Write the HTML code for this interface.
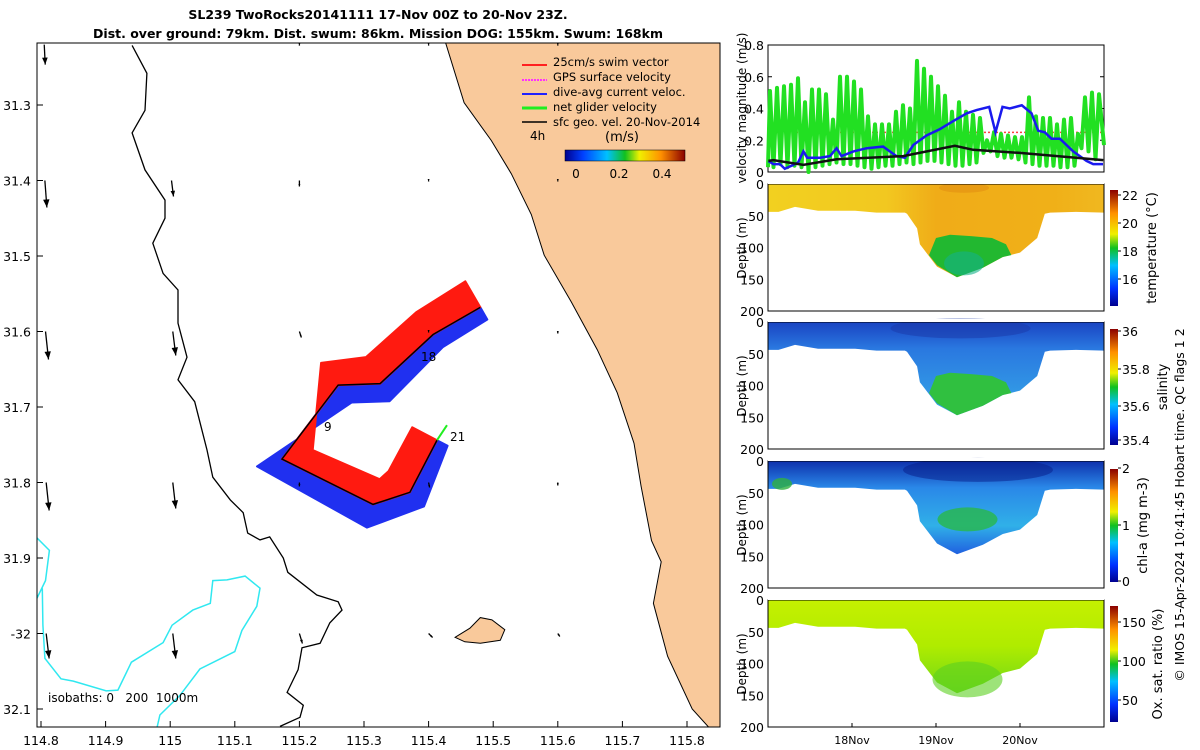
<!DOCTYPE html>
<html><head><meta charset="utf-8"><style>
html,body{margin:0;background:#fff;overflow:hidden;width:1200px;height:750px;}
svg{display:block;font-family:"DejaVu Sans","Liberation Sans",sans-serif;}
</style></head><body>
<svg id="fig" width="1200" height="750" viewBox="0 0 1200 750">
<defs>
<linearGradient id="jetV" x1="0" y1="1" x2="0" y2="0"><stop offset="0" stop-color="#00008f"/><stop offset="0.15" stop-color="#0030ff"/><stop offset="0.35" stop-color="#00c0ff"/><stop offset="0.5" stop-color="#10c020"/><stop offset="0.62" stop-color="#f0f000"/><stop offset="0.8" stop-color="#ff9000"/><stop offset="1" stop-color="#8a0000"/></linearGradient>
<linearGradient id="jetH" x1="0" y1="0" x2="1" y2="0"><stop offset="0" stop-color="#00008f"/><stop offset="0.15" stop-color="#0040ff"/><stop offset="0.35" stop-color="#00c0ff"/><stop offset="0.5" stop-color="#10c020"/><stop offset="0.62" stop-color="#f0f000"/><stop offset="0.8" stop-color="#ff9000"/><stop offset="1" stop-color="#8a0000"/></linearGradient>
<linearGradient id="gT" x1="0" y1="0" x2="1" y2="0"><stop offset="0" stop-color="#f2d020"/><stop offset="0.35" stop-color="#f2c820"/><stop offset="0.5" stop-color="#f0ac18"/><stop offset="0.85" stop-color="#f0b018"/><stop offset="1" stop-color="#f0b820"/></linearGradient>
<linearGradient id="gS" x1="0" y1="0" x2="0" y2="1"><stop offset="0" stop-color="#1840c0"/><stop offset="0.3" stop-color="#2a78e0"/><stop offset="1" stop-color="#35a8e8"/></linearGradient>
<linearGradient id="gC" x1="0" y1="0" x2="0" y2="1"><stop offset="0" stop-color="#0c2aa8"/><stop offset="0.3" stop-color="#2a88e8"/><stop offset="0.7" stop-color="#30b0e8"/><stop offset="1" stop-color="#2060e0"/></linearGradient>
<linearGradient id="gO" x1="0" y1="0" x2="0" y2="1"><stop offset="0" stop-color="#c6f000"/><stop offset="0.5" stop-color="#b0ec00"/><stop offset="1" stop-color="#70d818"/></linearGradient>
<clipPath id="mapClip"><rect x="37" y="43" width="683" height="684"/></clipPath>
</defs>

<text x="378" y="19" text-anchor="middle" font-size="12.5" font-weight="bold">SL239 TwoRocks20141111 17-Nov 00Z to 20-Nov 23Z.</text>
<text x="378" y="38" text-anchor="middle" font-size="12.5" font-weight="bold">Dist. over ground: 79km. Dist. swum: 86km. Mission DOG: 155km. Swum: 168km</text>

<g id="map" clip-path="url(#mapClip)"></g>
<rect x="37" y="43" width="683" height="684" fill="none" stroke="#000" stroke-width="1"/>
<g id="mapAxes"></g>

<g id="legend">
<line x1="522" y1="65" x2="547" y2="65" stroke="#ff2020" stroke-width="2"/><text x="553" y="66" font-size="11.5">25cm/s swim vector</text>
<line x1="522" y1="80" x2="547" y2="80" stroke="#ff30ff" stroke-width="2" stroke-dasharray="2,1"/><text x="553" y="81" font-size="11.5">GPS surface velocity</text>
<line x1="522" y1="94" x2="547" y2="94" stroke="#2020ff" stroke-width="2"/><text x="553" y="96" font-size="11.5">dive-avg current veloc.</text>
<line x1="522" y1="108" x2="547" y2="108" stroke="#20ee20" stroke-width="3"/><text x="553" y="111" font-size="11.5">net glider velocity</text>
<line x1="522" y1="122" x2="547" y2="122" stroke="#000" stroke-width="1.5"/><text x="553" y="126" font-size="11.5">sfc geo. vel. 20-Nov-2014</text>
<text x="530" y="140" font-size="12">4h</text>
<text x="605" y="141" font-size="13">(m/s)</text>
<rect x="565" y="150" width="120" height="11" fill="url(#jetH)" stroke="#000" stroke-width="0.5"/>
<text x="576" y="178" font-size="12" text-anchor="middle">0</text><text x="619" y="178" font-size="12" text-anchor="middle">0.2</text><text x="662" y="178" font-size="12" text-anchor="middle">0.4</text>
</g>

<g id="vel"></g>
<g id="sections"></g>

<text transform="translate(1184,505) rotate(-90)" text-anchor="middle" font-size="12.5">© IMOS 15-Apr-2024 10:41:45 Hobart time. QC flags 1  2</text>
</svg>
<script>
const NS="http://www.w3.org/2000/svg";
function mk(parent,tag,attrs,text){const e=document.createElementNS(NS,tag);for(const k in attrs)e.setAttribute(k,attrs[k]);if(text!==undefined)e.textContent=text;parent.appendChild(e);return e;}

// ---------- MAP DATA ----------
const lonTicks=[114.8,114.9,115,115.1,115.2,115.3,115.4,115.5,115.6,115.7,115.8];
const latTicks=[31.3,31.4,31.5,31.6,31.7,31.8,31.9,32,32.1];
const latTickLabels=["31.3","31.4","31.5","31.6","31.7","31.8","31.9","-32","32.1"];
const coastLon=[115.42,115.455,115.497,115.528,115.559,115.579,115.621,115.661,115.692,115.718,115.729,115.745,115.76,115.748,115.77,115.808,115.84,116.0,116.0];
const coastLat=[31.2,31.297,31.347,31.391,31.445,31.499,31.561,31.624,31.681,31.748,31.805,31.877,31.905,31.96,32.03,32.1,32.13,32.13,31.2];
const iso200Lon=[114.941,114.964,114.961,114.941,114.961,114.992,114.992,114.973,114.989,115.012,115.012,115.026,115.012,115.038,115.057,115.066,115.093,115.113,115.120,115.139,115.154,115.175,115.182,115.227,115.260,115.266,115.247,115.232,115.204,115.198,115.181,115.206,115.201,115.170];
const iso200Lat=[31.221,31.258,31.307,31.337,31.386,31.426,31.450,31.483,31.523,31.545,31.589,31.634,31.664,31.693,31.757,31.793,31.823,31.840,31.867,31.876,31.872,31.900,31.919,31.949,31.958,31.969,31.986,32.013,32.019,32.048,32.078,32.095,32.111,32.123];
const iso1000aLon=[114.79,114.813,114.807,114.79];
const iso1000aLat=[31.87,31.89,31.93,31.96];
const iso1000bLon=[114.802,114.803,114.806,114.831,114.85,114.901,114.919,114.94,114.989,115.003,115.035,115.062,115.066,115.088,115.116,115.139,115.134,115.111,115.1,115.046,115.015,114.984,114.979];
const iso1000bLat=[31.94,31.989,32.033,32.06,32.063,32.076,32.075,32.038,32.012,31.989,31.969,31.96,31.93,31.929,31.924,31.94,31.964,31.996,32.024,32.047,32.082,32.108,32.127];
const islandLon=[115.441,115.464,115.480,115.498,115.518,115.511,115.480,115.456];
const islandLat=[32.005,31.993,31.979,31.982,31.995,32.009,32.013,32.011];
const trackLon=[115.48,115.407,115.325,115.26,115.173,115.314,115.371,115.413];
const trackLat=[31.568,31.604,31.669,31.671,31.769,31.829,31.813,31.744];
const swimWidth=[30,28,30,28,32,26,30,28];
const currWidth=[14,16,20,22,26,24,20,12];
const fieldLon=[114.805,114.806,114.807,114.808,114.808,115.0,115.002,115.004,115.004,115.004,115.2,115.2,115.2,115.2,115.2,115.4,115.4,115.4,115.4,115.4,115.6,115.6,115.6,115.6,115.6];
const fieldLat=[31.22,31.4,31.6,31.8,32.0,31.22,31.4,31.6,31.8,32.0,31.22,31.4,31.6,31.8,32.0,31.22,31.4,31.6,31.8,32.0,31.22,31.4,31.6,31.8,32.0];
const fieldU=[0.01,0.02,0.03,0.03,0.03,0,0.02,0.03,0.03,0.03,0,0,0.02,0,0.03,0,0,0,0.01,0.04,0,0,0,0,0.02];
const fieldV=[0.2,0.27,0.28,0.28,0.25,0,0.16,0.24,0.26,0.25,0.01,0.06,0.06,0.04,0.1,0.01,0.01,0.01,0.05,0.04,0.01,0.01,0.02,0.03,0.03];

const MX=lon=>41+(lon-114.8)*646;
const MY=lat=>105+(lat-31.3)*755;
const map=document.getElementById('map');
const mapAxes=document.getElementById('mapAxes');

function pts(lons,lats){return lons.map((l,i)=>MX(l).toFixed(1)+","+MY(lats[i]).toFixed(1)).join(" ");}
let land=mk(map,'polygon',{points:pts(coastLon,coastLat),fill:'#f9c99b',stroke:'#000','stroke-width':1});


let isl=mk(map,'polygon',{points:pts(islandLon,islandLat),fill:'#f9c99b',stroke:'#000','stroke-width':1});


let i200=mk(map,'polyline',{points:pts(iso200Lon,iso200Lat),fill:'none',stroke:'#000','stroke-width':1.3});


let i1a=mk(map,'polyline',{points:pts(iso1000aLon,iso1000aLat),fill:'none',stroke:'#30e8f0','stroke-width':1.5});


let i1b=mk(map,'polyline',{points:pts(iso1000bLon,iso1000bLat),fill:'none',stroke:'#30e8f0','stroke-width':1.5});



const tx=trackLon.map(MX),ty=trackLat.map(MY);
function normals(){const n=[];for(let i=0;i<tx.length;i++){const a=Math.max(0,i-1),b=Math.min(tx.length-1,i+1);let dx=tx[b]-tx[a],dy=ty[b]-ty[a];const L=Math.hypot(dx,dy);let nx=-dy/L,ny=dx/L;if(ny>0){nx=-nx;ny=-ny;}n.push([nx,ny]);}return n;}
const nrm=normals();
function ribbon(w,sign,color,name){const side=tx.map((x,i)=>(x+sign*nrm[i][0]*w[i]).toFixed(1)+","+(ty[i]+sign*nrm[i][1]*w[i]).toFixed(1));const base=tx.map((x,i)=>x.toFixed(1)+","+ty[i].toFixed(1)).reverse();const p=mk(map,'polygon',{points:side.concat(base).join(" "),fill:color,stroke:color,'stroke-width':2,'stroke-linejoin':'round'});}
ribbon(currWidth,-1,'#2030f0','current-vector-ribbon');
ribbon(swimWidth,1,'#ff1a10','swim-vector-ribbon');
let tr=mk(map,'polyline',{points:tx.map((x,i)=>x+","+ty[i]).join(" "),fill:'none',stroke:'#000','stroke-width':1.5});


let gArrow=mk(map,'line',{x1:tx[7],y1:ty[7],x2:tx[7]+10,y2:ty[7]-15,stroke:'#20ee20','stroke-width':2});


const dayLab=[["18",421,361],["9",324,431],["21",450,441]];
dayLab.forEach(d=>{const t=mk(map,'text',{x:d[1],y:d[2],'font-size':12},d[0]);});

const arrScale=100;
for(let i=0;i<fieldLon.length;i++){
 const x0=MX(fieldLon[i]),y0=MY(fieldLat[i]),x1=x0+fieldU[i]*arrScale,y1=y0+fieldV[i]*arrScale;
 const g=mk(map,'g',{});
 
 
 mk(g,'line',{x1:x0,y1:y0,x2:x1,y2:y1,stroke:'#000','stroke-width':1.3});
 const L=Math.hypot(x1-x0,y1-y0)||1,ux=(x1-x0)/L,uy=(y1-y0)/L,h=Math.min(8,Math.max(2.5,L*0.35));
 mk(g,'polygon',{points:`${x1},${y1} ${x1-ux*h+uy*h*0.4},${y1-uy*h-ux*h*0.4} ${x1-ux*h-uy*h*0.4},${y1-uy*h+ux*h*0.4}`,fill:'#000'});
}
let isoT=mk(map,'text',{x:48,y:702,'font-size':12,'xml:space':'preserve',style:'white-space:pre'},"isobaths: 0   200  1000m");



lonTicks.forEach(l=>{const x=MX(l);mk(mapAxes,'line',{x1:x,y1:727,x2:x,y2:721,stroke:'#000'});const t=mk(mapAxes,'text',{x:x,y:745,'font-size':12.5,'text-anchor':'middle'},String(l));});
latTicks.forEach((l,i)=>{const y=MY(l);mk(mapAxes,'line',{x1:37,y1:y,x2:43,y2:y,stroke:'#000'});const t=mk(mapAxes,'text',{x:31,y:y+5,'font-size':12.5,'text-anchor':'end'},latTickLabels[i]);});

// ---------- VELOCITY PANEL DATA ----------
const velTicks=[0,0.2,0.4,0.6,0.8];
const greenPeaks=[0.51,0.53,0.54,0.55,0.59,0.44,0.52,0.52,0.49,0.33,0.6,0.6,0.57,0.52,0.35,0.3,0.3,0.3,0.38,0.42,0.4,0.7,0.65,0.6,0.54,0.48,0.38,0.44,0.38,0.36,0.34,0.2,0.25,0.24,0.23,0.22,0.22,0.47,0.35,0.34,0.34,0.3,0.33,0.34,0.24,0.47,0.5,0.49];
const greenTroughs=[0.03,0.05,0.03,0.04,0.03,0.0,0.03,0.04,0.05,0.06,0.05,0.05,0.04,0.03,0.02,0.03,0.04,0.04,0.05,0.06,0.05,0.06,0.07,0.07,0.06,0.05,0.04,0.04,0.05,0.06,0.12,0.13,0.1,0.09,0.09,0.08,0.06,0.05,0.04,0.04,0.04,0.03,0.03,0.04,0.15,0.13,0.08];
const diveFirstHour=0.57, diveCycleHours=2.0;
const blueHours=[0.1,1.5,3.4,4.8,6.7,8.6,10.1,11.2,14.9,17.7,19.6,21.0,24.4,28.2,32.9,36.7,39.1,41.5,45.3,49.1,52.9,56.8,59.6,63.2,65.0,67.0,69.1,72.5,75.3,77.2,79.1,81.0,83.4,87.2,91.0,92.9,95.7];
const blueVals=[0.07,0.05,0.05,0.02,0.04,0.06,0.13,0.09,0.09,0.1,0.15,0.1,0.13,0.15,0.16,0.1,0.09,0.17,0.23,0.27,0.32,0.37,0.39,0.41,0.25,0.41,0.4,0.42,0.37,0.26,0.25,0.21,0.21,0.13,0.07,0.05,0.05];
const blackHours=[0.1,1.5,10.1,19.6,38.6,53.4,58.6,72.0,95.8];
const blackVals=[0.07,0.075,0.045,0.08,0.1,0.165,0.14,0.12,0.075];
const swimRef=0.25;
const XT=h=>768+h/96*336;
const YV=v=>172-v/0.8*127;
const vel=document.getElementById('vel');
let vf=mk(vel,'rect',{x:768,y:45,width:336,height:127,fill:'#fff',stroke:'#000'});


velTicks.forEach(v=>{const y=YV(v);mk(vel,'line',{x1:768,y1:y,x2:772,y2:y,stroke:'#000'});mk(vel,'line',{x1:1100,y1:y,x2:1104,y2:y,stroke:'#000'});const t=mk(vel,'text',{x:764,y:y+5,'font-size':12.5,'text-anchor':'end'},String(v));});
let vl=mk(vel,'text',{transform:'translate(746,108) rotate(-90)','font-size':12,'text-anchor':'middle'},"velocity magnitude (m/s)");


let rl=mk(vel,'line',{x1:XT(0),y1:YV(swimRef),x2:XT(96),y2:YV(swimRef),stroke:'#ff4040','stroke-width':1.5,'stroke-dasharray':'2,2'});


let gp=[XT(0)+","+YV(greenTroughs[0])];
greenPeaks.forEach((p,i)=>{const h=diveFirstHour+i*diveCycleHours;gp.push(XT(h).toFixed(1)+","+YV(p).toFixed(1));if(i<greenTroughs.length)gp.push(XT(h+diveCycleHours/2).toFixed(1)+","+YV(greenTroughs[i]).toFixed(1));});
gp.push(XT(96)+","+YV(0.17));
let gl=mk(vel,'polyline',{points:gp.join(" "),fill:'none',stroke:'#22e022','stroke-width':4,'stroke-linejoin':'round'});


let bl=mk(vel,'polyline',{points:blueHours.map((h,i)=>XT(h).toFixed(1)+","+YV(blueVals[i]).toFixed(1)).join(" "),fill:'none',stroke:'#1a1aee','stroke-width':2.5});


let kl=mk(vel,'polyline',{points:blackHours.map((h,i)=>XT(h).toFixed(1)+","+YV(blackVals[i]).toFixed(1)).join(" "),fill:'none',stroke:'#111','stroke-width':2.5});



// ---------- SECTIONS DATA ----------
const depthTicks=[0,50,100,150,200];
const profileHours=[0,3,7.7,14.3,24.9,31,39.1,39.7,42.6,43.4,48.3,54,61.4,67.1,72,76.9,79.1,80.6,88,96];
const profileDepth=[44,44,36,42,42,45,45,47,70,95,130,147,132,115,108,85,47,45,44,45];
const coreHours=[46,48,52,58,64,68,69.5,67.1,61.4,54,48.3];
const coreDepth=[112,85,80,82,85,95,112,115,132,147,128];
const dateTicksHours=[24,48,72];
const dateTickLabels=["18Nov","19Nov","20Nov"];
const panels=[
 {top:184,fill:'url(#gT)',core:'#22b830',core2:'#14b088',cb:[190,306],ticks:[["22",195],["20",223],["18",251],["16",279]],label:"temperature (°C)",lx:1156,name:'temperature'},
 {top:322,fill:'url(#gS)',core:'#30c040',core2:'#28b860',cb:[329,445],ticks:[["36",331],["35.8",369],["35.6",406],["35.4",440]],label:"salinity",lx:1167,name:'salinity'},
 {top:461,fill:'url(#gC)',core:'#28b848',core2:'#22a860',cb:[469,582],ticks:[["2",468],["1",525],["0",581]],label:"chl-a (mg m-3)",lx:1147,name:'chlorophyll'},
 {top:600,fill:'url(#gO)',core:'#70d818',core2:'#60d020',cb:[606,722],ticks:[["150",622],["100",661],["50",700]],label:"Ox. sat. ratio (%)",lx:1162,name:'oxygen'}
];
const secs=document.getElementById('sections');
panels.forEach((p,k)=>{
 const YD=d=>p.top+d*0.635;
 const g=mk(secs,'g',{});
 
 
 const top=[XT(96)+","+(YD(0)-2),XT(0)+","+(YD(0)-2)];
 const bottom=profileHours.map((h,i)=>XT(h).toFixed(1)+","+YD(profileDepth[i]).toFixed(1));
 mk(g,'polygon',{points:top.concat(bottom).join(" "),fill:p.fill});
 if(k===0){mk(g,'polygon',{points:coreHours.map((h,i)=>XT(h).toFixed(1)+","+YD(coreDepth[i]).toFixed(1)).join(" "),fill:p.core});
   mk(g,'ellipse',{cx:XT(56),cy:YD(125),rx:20,ry:12,fill:p.core2,opacity:0.6});
   mk(g,'ellipse',{cx:XT(56),cy:YD(6),rx:25,ry:5,fill:'#e08a10',opacity:0.5});}
 if(k===1){mk(g,'polygon',{points:coreHours.map((h,i)=>XT(h).toFixed(1)+","+YD(coreDepth[i]).toFixed(1)).join(" "),fill:p.core});
   mk(g,'ellipse',{cx:XT(55),cy:YD(10),rx:70,ry:10,fill:'#1a38a8',opacity:0.5});}
 if(k===2){mk(g,'ellipse',{cx:XT(57),cy:YD(92),rx:30,ry:12,fill:p.core,opacity:0.8});
   mk(g,'ellipse',{cx:XT(60),cy:YD(14),rx:75,ry:12,fill:'#061c88',opacity:0.5});
   mk(g,'ellipse',{cx:XT(4),cy:YD(36),rx:10,ry:6,fill:'#30b040',opacity:0.8});}
 if(k===3){mk(g,'ellipse',{cx:XT(57),cy:YD(125),rx:35,ry:18,fill:'#5cd020',opacity:0.6});}
 const fr=mk(g,'rect',{x:768,y:p.top,width:336,height:127,fill:'none',stroke:'#000'});
 
 
 mk(g,'rect',{x:768,y:p.top-3,width:336,height:3,fill:'#fff'});
 mk(g,'line',{x1:768,y1:p.top+127,x2:1104,y2:p.top+127,stroke:'#000'});
 depthTicks.forEach(d=>{const y=YD(d);const t=mk(g,'text',{x:764,y:y+5,'font-size':12.5,'text-anchor':'end'},String(d));});
 const yl=mk(g,'text',{transform:`translate(746,${p.top+64}) rotate(-90)`,'font-size':12,'text-anchor':'middle'},"Depth (m)");
 
 
 const cb=mk(g,'rect',{x:1110,y:p.cb[0],width:8,height:p.cb[1]-p.cb[0],fill:'url(#jetV)'});
 
 
 p.ticks.forEach(t=>{mk(g,'line',{x1:1118,y1:t[1],x2:1121,y2:t[1],stroke:'#000'});const tt=mk(g,'text',{x:1122,y:t[1]+5,'font-size':12.5},t[0]);});
 const cl=mk(g,'text',{transform:`translate(${p.lx},${(p.cb[0]+p.cb[1])/2}) rotate(-90)`,'font-size':13,'text-anchor':'middle'},p.label);
 
 
 if(k===3){dateTicksHours.forEach((h,i)=>{mk(g,'line',{x1:XT(h),y1:727,x2:XT(h),y2:723,stroke:'#000'});const t=mk(g,'text',{x:XT(h),y:744,'font-size':11,'text-anchor':'middle'},dateTickLabels[i]);});}
});
</script>
</body></html>
